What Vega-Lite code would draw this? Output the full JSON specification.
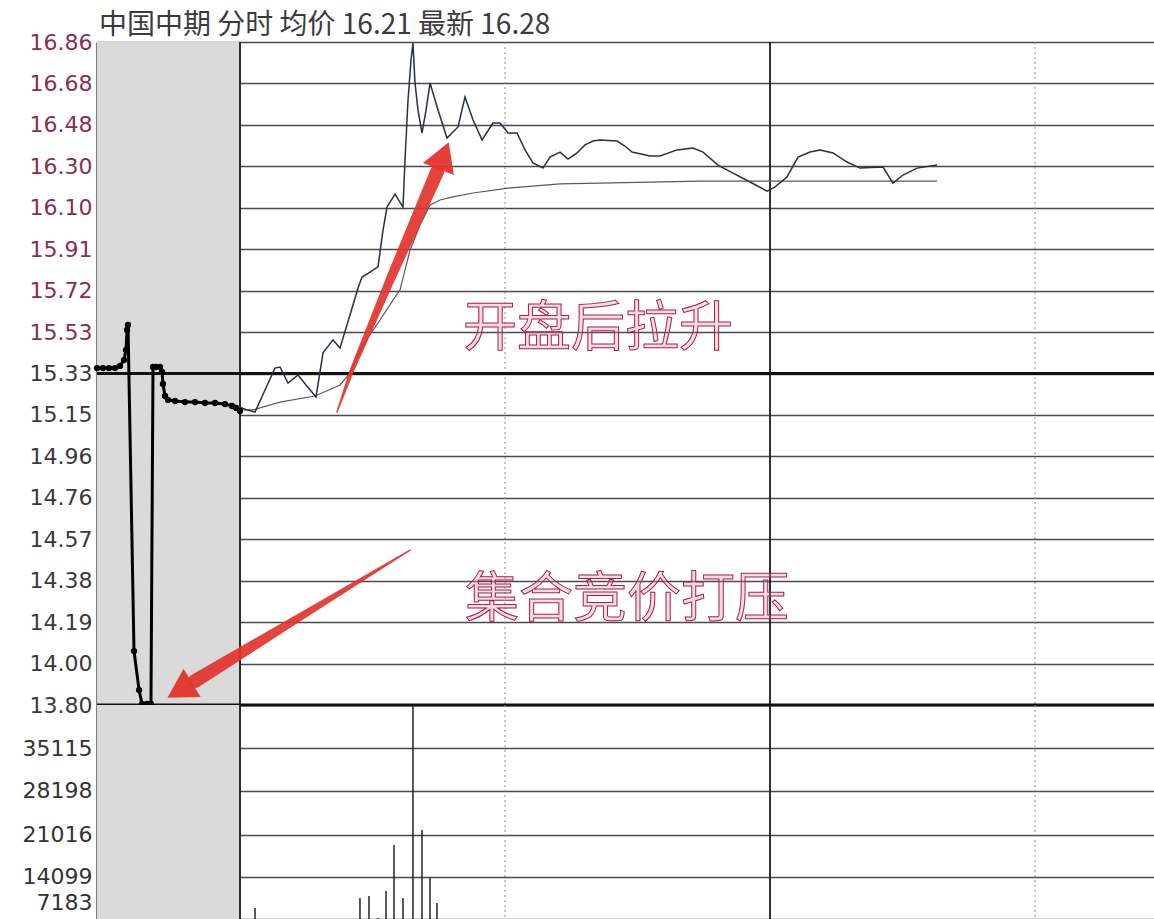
{
  "$schema": "https://vega.github.io/schema/vega-lite/v6.json",
  "padding": {"left": 0, "top": 12, "right": 0, "bottom": 0},
  "background": "#ffffff",
  "spacing": 0,
  "bounds": "flush",
  "config": {
    "view": {"stroke": null},
    "concat": {"spacing": 0},
    "axis": {
      "labelFont": "DejaVu Sans",
      "labelFontSize": 22,
      "ticks": false,
      "labelPadding": 5,
      "domainColor": "#000000",
      "domainWidth": 2,
      "gridColor": "#4a4a4a",
      "gridWidth": 1.5,
      "gridOpacity": 1,
      "minExtent": 97,
      "maxExtent": 97
    }
  },
  "datasets": {
    "shade": [{"t0": -16.19, "t1": 0}],
    "vsolid": [{"t": 0}, {"t": 60}],
    "vdotted": [{"t": 30}, {"t": 90}],
    "ref": [{"p": 15.33}, {"p": 13.8}],
    "auction": [
      {"t": -16.19, "p": 15.355}, {"t": -15.51, "p": 15.355}, {"t": -14.83, "p": 15.355}, {"t": -14.15, "p": 15.355},
      {"t": -13.59, "p": 15.365}, {"t": -13.13, "p": 15.392}, {"t": -12.91, "p": 15.438}, {"t": -12.79, "p": 15.531},
      {"t": -12.68, "p": 15.554}, {"t": -12.0, "p": 14.049}, {"t": -11.43, "p": 13.869}, {"t": -11.09, "p": 13.805},
      {"t": -10.53, "p": 13.805}, {"t": -10.08, "p": 13.805}, {"t": -9.85, "p": 15.36}, {"t": -9.51, "p": 15.36},
      {"t": -9.06, "p": 15.36}, {"t": -8.83, "p": 15.337}, {"t": -8.72, "p": 15.282}, {"t": -8.49, "p": 15.226},
      {"t": -8.15, "p": 15.208}, {"t": -7.36, "p": 15.203}, {"t": -6.23, "p": 15.198}, {"t": -5.09, "p": 15.198},
      {"t": -3.96, "p": 15.194}, {"t": -2.83, "p": 15.194}, {"t": -1.7, "p": 15.189}, {"t": -0.91, "p": 15.18},
      {"t": -0.45, "p": 15.171}, {"t": 0, "p": 15.157}
    ],
    "price": [
      {"t": 0, "p": 15.175}, {"t": 0.79, "p": 15.162}, {"t": 1.7, "p": 15.152}, {"t": 2.83, "p": 15.254},
      {"t": 3.96, "p": 15.355}, {"t": 4.53, "p": 15.36}, {"t": 5.43, "p": 15.286}, {"t": 6.57, "p": 15.323},
      {"t": 7.47, "p": 15.277}, {"t": 8.6, "p": 15.222}, {"t": 9.4, "p": 15.425}, {"t": 10.53, "p": 15.485},
      {"t": 11.32, "p": 15.448}, {"t": 12.45, "p": 15.6}, {"t": 13.36, "p": 15.725}, {"t": 13.81, "p": 15.775},
      {"t": 14.72, "p": 15.798}, {"t": 15.62, "p": 15.822}, {"t": 16.19, "p": 15.992}, {"t": 16.64, "p": 16.098},
      {"t": 17.55, "p": 16.158}, {"t": 18.45, "p": 16.098}, {"t": 18.68, "p": 16.315}, {"t": 19.02, "p": 16.592},
      {"t": 19.36, "p": 16.777}, {"t": 19.58, "p": 16.855}, {"t": 19.81, "p": 16.671}, {"t": 20.15, "p": 16.546},
      {"t": 20.6, "p": 16.44}, {"t": 21.06, "p": 16.546}, {"t": 21.51, "p": 16.671}, {"t": 22.42, "p": 16.546},
      {"t": 23.43, "p": 16.417}, {"t": 24.68, "p": 16.468}, {"t": 25.47, "p": 16.606}, {"t": 26.38, "p": 16.5},
      {"t": 27.4, "p": 16.408}, {"t": 28.64, "p": 16.486}, {"t": 29.43, "p": 16.486}, {"t": 30.34, "p": 16.44},
      {"t": 31.36, "p": 16.44}, {"t": 32.26, "p": 16.362}, {"t": 33.17, "p": 16.302}, {"t": 34.3, "p": 16.278},
      {"t": 35.09, "p": 16.329}, {"t": 36.23, "p": 16.352}, {"t": 37.13, "p": 16.32}, {"t": 38.15, "p": 16.348},
      {"t": 39.06, "p": 16.385}, {"t": 39.96, "p": 16.403}, {"t": 40.75, "p": 16.408}, {"t": 42.68, "p": 16.403},
      {"t": 43.58, "p": 16.38}, {"t": 44.38, "p": 16.352}, {"t": 46.42, "p": 16.334}, {"t": 47.55, "p": 16.334},
      {"t": 49.47, "p": 16.362}, {"t": 51.28, "p": 16.371}, {"t": 52.42, "p": 16.352}, {"t": 54.11, "p": 16.292},
      {"t": 55.81, "p": 16.255}, {"t": 57.74, "p": 16.214}, {"t": 59.66, "p": 16.172}, {"t": 60.57, "p": 16.191},
      {"t": 61.92, "p": 16.237}, {"t": 63.17, "p": 16.329}, {"t": 64.53, "p": 16.352}, {"t": 65.66, "p": 16.362},
      {"t": 67.13, "p": 16.348}, {"t": 68.72, "p": 16.306}, {"t": 70.19, "p": 16.278}, {"t": 72.79, "p": 16.283},
      {"t": 73.92, "p": 16.209}, {"t": 75.06, "p": 16.246}, {"t": 76.64, "p": 16.278}, {"t": 78.91, "p": 16.292}
    ],
    "avg": [
      {"t": 0, "p": 15.162}, {"t": 1.47, "p": 15.162}, {"t": 4.53, "p": 15.198}, {"t": 8.49, "p": 15.226},
      {"t": 11.32, "p": 15.277}, {"t": 12.45, "p": 15.332}, {"t": 13.92, "p": 15.462}, {"t": 15.85, "p": 15.577},
      {"t": 17.32, "p": 15.669}, {"t": 18.11, "p": 15.715}, {"t": 19.25, "p": 15.9}, {"t": 20.38, "p": 16.015},
      {"t": 21.51, "p": 16.108}, {"t": 22.64, "p": 16.131}, {"t": 24.11, "p": 16.145}, {"t": 26.38, "p": 16.163},
      {"t": 30.34, "p": 16.186}, {"t": 36.23, "p": 16.205}, {"t": 40.75, "p": 16.209}, {"t": 52.08, "p": 16.218},
      {"t": 63.4, "p": 16.218}, {"t": 78.91, "p": 16.218}
    ],
    "vol": [
      {"t": 1.7, "v": 8990}, {"t": 13.58, "v": 10628}, {"t": 14.6, "v": 10955}, {"t": 15.62, "v": 7352},
      {"t": 16.53, "v": 11774}, {"t": 17.43, "v": 19309}, {"t": 18.45, "v": 10628}, {"t": 19.58, "v": 42200},
      {"t": 20.6, "v": 21766}, {"t": 21.51, "v": 13904}, {"t": 22.3, "v": 9809}
    ],
    "notes": [
      {"label": "开盘后拉升", "t": 40.53, "p": 15.531},
      {"label": "集合竞价打压", "t": 43.81, "p": 14.28}
    ],
    "arrows": [
      {"arrow": "up", "step": 0, "t": 10.98, "p": 15.152},
      {"arrow": "up", "step": 0.25, "t": 12.68, "p": 15.346},
      {"arrow": "up", "step": 0.6, "t": 16.98, "p": 15.762},
      {"arrow": "up", "step": 1, "t": 22.3, "p": 16.26},
      {"arrow": "down", "step": 0, "t": 19.25, "p": 14.515},
      {"arrow": "down", "step": 0.5, "t": 6.79, "p": 14.206},
      {"arrow": "down", "step": 1, "t": -5.09, "p": 13.911}
    ],
    "headUp": [{"t": 23.04, "p": 16.336}],
    "headDown": [{"t": -6.82, "p": 13.868}]
  },
  "vconcat": [
    {
      "width": 1057,
      "height": 663,
      "title": {
        "text": "中国中期 分时 均价 16.21 最新 16.28",
        "anchor": "start",
        "frame": "group",
        "font": "Noto Sans CJK SC",
        "fontSize": 28,
        "fontWeight": "normal",
        "color": "#3b3b3b",
        "offset": -9,
        "dx": 2
      },
      "layer": [
        {
          "data": {"name": "shade"},
          "mark": {"type": "rect", "color": "#dadada"},
          "encoding": {
            "x": {"field": "t0", "type": "quantitative", "scale": {"domain": [-16.19, 103.47], "nice": false, "zero": false}, "axis": null},
            "x2": {"field": "t1"},
            "y": {
              "datum": 16.86, "type": "quantitative",
              "scale": {"domain": [13.8, 16.86], "nice": false, "zero": false},
              "axis": {
                "title": null,
                "grid": true,
                "values": [13.8, 13.99125, 14.1825, 14.37375, 14.565, 14.75625, 14.9475, 15.13875, 15.33, 15.52125, 15.7125, 15.90375, 16.095, 16.28625, 16.4775, 16.66875, 16.86],
                "labelExpr": "['13.80','14.00','14.19','14.38','14.57','14.76','14.96','15.15','15.33','15.53','15.72','15.91','16.10','16.30','16.48','16.68','16.86'][round((datum.value-13.8)/0.19125)]",
                "labelColor": {"condition": {"test": "datum.value > 15.4", "value": "#8a2d55"}, "value": "#3a3a3a"}
              }
            },
            "y2": {"datum": 13.8}
          }
        },
        {
          "data": {"name": "vsolid"},
          "mark": {"type": "rule", "color": "#1a1a1a", "strokeWidth": 1.8},
          "encoding": {"x": {"field": "t", "type": "quantitative", "axis": null}}
        },
        {
          "data": {"name": "vdotted"},
          "mark": {"type": "rule", "color": "#8a8a8a", "strokeWidth": 1, "strokeDash": [2, 3]},
          "encoding": {"x": {"field": "t", "type": "quantitative", "axis": null}}
        },
        {
          "data": {"name": "ref"},
          "mark": {"type": "rule", "color": "#111111", "strokeWidth": 3},
          "encoding": {"y": {"field": "p", "type": "quantitative", "axis": {"title": null}}}
        },
        {
          "data": {"name": "avg"},
          "mark": {"type": "line", "color": "#5a5a5a", "strokeWidth": 1.2},
          "encoding": {
            "x": {"field": "t", "type": "quantitative", "axis": null},
            "y": {"field": "p", "type": "quantitative", "axis": {"title": null}}
          }
        },
        {
          "data": {"name": "price"},
          "mark": {"type": "line", "color": "#26304a", "strokeWidth": 1.5},
          "encoding": {
            "x": {"field": "t", "type": "quantitative", "axis": null},
            "y": {"field": "p", "type": "quantitative", "axis": {"title": null}}
          }
        },
        {
          "data": {"name": "auction"},
          "mark": {"type": "line", "color": "#000000", "strokeWidth": 3, "point": {"filled": true, "size": 40, "color": "#000000", "opacity": 1}},
          "encoding": {
            "x": {"field": "t", "type": "quantitative", "axis": null},
            "y": {"field": "p", "type": "quantitative", "axis": {"title": null}}
          }
        },
        {
          "data": {"name": "notes"},
          "mark": {"type": "text", "font": "Noto Sans CJK SC", "fontSize": 54, "fill": "#e88a9a", "fillOpacity": 0.3, "stroke": "#a82048", "strokeWidth": 1, "align": "center", "baseline": "middle"},
          "encoding": {
            "x": {"field": "t", "type": "quantitative", "axis": null},
            "y": {"field": "p", "type": "quantitative", "axis": {"title": null}},
            "text": {"field": "label"}
          }
        },
        {
          "data": {"name": "arrows"},
          "mark": {"type": "trail", "color": "#e3342c", "opacity": 0.92},
          "encoding": {
            "x": {"field": "t", "type": "quantitative", "axis": null},
            "y": {"field": "p", "type": "quantitative", "axis": {"title": null}},
            "detail": {"field": "arrow"},
            "order": {"field": "step"},
            "size": {"field": "step", "type": "quantitative", "scale": {"domain": [0, 1], "range": [1.5, 14]}, "legend": null}
          }
        },
        {
          "data": {"name": "headUp"},
          "mark": {"type": "point", "shape": "triangle-up", "filled": true, "size": 1100, "angle": 21, "color": "#e3342c", "opacity": 0.95},
          "encoding": {
            "x": {"field": "t", "type": "quantitative", "axis": null},
            "y": {"field": "p", "type": "quantitative", "axis": {"title": null}}
          }
        },
        {
          "data": {"name": "headDown"},
          "mark": {"type": "point", "shape": "triangle-up", "filled": true, "size": 1100, "angle": 239, "color": "#e3342c", "opacity": 0.95},
          "encoding": {
            "x": {"field": "t", "type": "quantitative", "axis": null},
            "y": {"field": "p", "type": "quantitative", "axis": {"title": null}}
          }
        }
      ]
    },
    {
      "width": 1057,
      "height": 214,
      "layer": [
        {
          "data": {"name": "shade"},
          "mark": {"type": "rect", "color": "#dadada"},
          "encoding": {
            "x": {"field": "t0", "type": "quantitative", "scale": {"domain": [-16.19, 103.47], "nice": false, "zero": false}, "axis": null},
            "x2": {"field": "t1"},
            "y": {
              "datum": 42241, "type": "quantitative",
              "scale": {"domain": [7183, 42241], "nice": false, "zero": false},
              "axis": {
                "title": null,
                "grid": true,
                "values": [35115, 28198, 21016, 14099, 7183],
                "format": "d",
                "labelFlush": true,
                "labelFlushOffset": -5,
                "labelColor": "#333333"
              }
            },
            "y2": {"datum": 7183}
          }
        },
        {
          "data": {"name": "vsolid"},
          "mark": {"type": "rule", "color": "#1a1a1a", "strokeWidth": 1.8},
          "encoding": {"x": {"field": "t", "type": "quantitative", "axis": null}}
        },
        {
          "data": {"name": "vdotted"},
          "mark": {"type": "rule", "color": "#8a8a8a", "strokeWidth": 1, "strokeDash": [2, 3]},
          "encoding": {"x": {"field": "t", "type": "quantitative", "axis": null}}
        },
        {
          "data": {"name": "vol"},
          "mark": {"type": "rule", "color": "#222222", "strokeWidth": 1.5, "clip": true},
          "encoding": {
            "x": {"field": "t", "type": "quantitative", "axis": null},
            "y": {"field": "v", "type": "quantitative", "axis": {"title": null}},
            "y2": {"datum": 0}
          }
        }
      ]
    }
  ]
}
